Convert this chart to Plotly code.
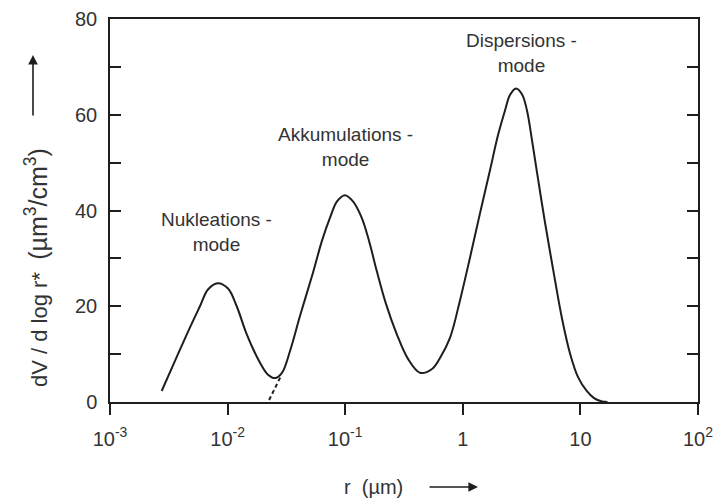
import plotly.graph_objects as go

# ---- data ----
r_um = [0.00275, 0.00357, 0.00479, 0.00582, 0.00681, 0.00824, 0.01008, 0.01195, 0.01453,
        0.01886, 0.02206, 0.0253, 0.0290, 0.0340, 0.0413, 0.0532, 0.0635, 0.0743, 0.0852,
        0.0996, 0.1165, 0.138, 0.1593, 0.1854, 0.2223, 0.2742, 0.342, 0.4325, 0.547,
        0.640, 0.778, 0.946, 1.152, 1.400, 1.703, 1.991, 2.285, 2.518, 2.833, 3.186,
        3.514, 3.875, 4.249, 5.00, 5.89, 6.98, 8.17, 9.55, 11.32, 13.06, 15.27, 17.0]
dv_dlogr = [2.3, 8.6, 15.6, 20.0, 23.5, 24.8, 23.7, 20.0, 14.2,
            8.2, 5.7, 5.0, 6.1, 10.7, 18.0, 27.0, 33.7, 38.5, 41.9,
            43.2, 41.9, 38.5, 33.7, 27.4, 20.5, 14.2, 9.0, 6.1, 6.9,
            9.2, 13.4, 21.2, 30.2, 39.4, 48.4, 55.7, 60.9, 64.1, 65.5, 64.3,
            60.9, 54.7, 48.4, 37.5, 27.4, 17.4, 10.1, 5.2, 2.3, 0.8, 0.1, 0.0]

dash_r = [0.028, 0.0221]
dash_y = [5.1, 0.0]

x_tickvals = [0.001, 0.01, 0.1, 1, 10, 100]
x_ticktext = ["10<sup>-3</sup>", "10<sup>-2</sup>", "10<sup>-1</sup>", "1", "10", "10<sup>2</sup>"]
y_tickvals = [0, 10, 20, 30, 40, 50, 60, 70, 80]
y_ticktext = ["0", "", "20", "", "40", "", "60", "", "80"]

mode_labels = ["Nukleations -<br>mode", "Akkumulations -<br>mode", "Dispersions -<br>mode"]
y_title = ("dV / d log r*  <span style='font-size:25px'>(µm<sup>3</sup>/cm<sup>3</sup>)</span>")
x_title = "r  (µm)"

# ---- layout geometry (page pixels; the page body adds an 8px margin) ----
OFF = 8
W, H = 713, 491
L, R, T, B = 102, 23, 11, 97
PW, PH = W - L - R, H - T - B

def px(x):
    return (x - OFF - L) / PW

def py(y):
    return (H - B - (y - OFF)) / PH

ink = "#1e1e1e"
txt = "#333333"
font = "Liberation Sans, Arial, sans-serif"

fig = go.Figure()
fig.add_trace(go.Scatter(x=r_um, y=dv_dlogr, mode="lines",
                         line=dict(color=ink, width=2, shape="spline", smoothing=1.0),
                         showlegend=False, hoverinfo="skip"))
fig.add_trace(go.Scatter(x=dash_r, y=dash_y, mode="lines",
                         line=dict(color=ink, width=2, dash="4px,3px"),
                         showlegend=False, hoverinfo="skip"))

label_pos = [(216, 232), (345, 147), (521, 53)]
annotations = []
for text, (ax_, ay_) in zip(mode_labels, label_pos):
    annotations.append(dict(text=text, x=px(ax_), y=py(ay_), xref="paper", yref="paper",
                            showarrow=False, font=dict(size=19, color=txt, family=font),
                            align="center", xanchor="center", yanchor="middle"))

# y-axis title (rotated) and its arrow
annotations.append(dict(text=y_title,
                        x=px(36), y=py(268), xref="paper", yref="paper", textangle=-90,
                        showarrow=False, font=dict(size=22, color=txt, family=font),
                        xanchor="center", yanchor="middle"))
annotations.append(dict(text="", x=px(33), y=py(55), xref="paper", yref="paper",
                        showarrow=True, ax=0, ay=62,
                        arrowhead=2, arrowsize=1.2, arrowwidth=1.6, arrowcolor=ink))
# x-axis title and its arrow
annotations.append(dict(text=x_title, x=px(373), y=py(487), xref="paper", yref="paper",
                        showarrow=False, font=dict(size=20, color=txt, family=font),
                        xanchor="center", yanchor="middle"))
annotations.append(dict(text="", x=px(478), y=py(487), xref="paper", yref="paper",
                        showarrow=True, ax=-50, ay=0,
                        arrowhead=2, arrowsize=1.2, arrowwidth=1.6, arrowcolor=ink))

fig.update_layout(
    width=W, height=H,
    margin=dict(l=L, r=R, t=T, b=B, autoexpand=False),
    paper_bgcolor="white", plot_bgcolor="white",
    annotations=annotations,
    font=dict(family=font, size=20, color=txt),
)
fig.update_xaxes(type="log", range=[-3, 2], tickvals=x_tickvals, ticktext=x_ticktext,
                 ticks="outside", ticklen=11, tickwidth=1.5, tickcolor=ink,
                 showline=True, linecolor=ink, linewidth=1.5, mirror=True, automargin=False,
                 showgrid=False, zeroline=False, ticklabelstandoff=7,
                 tickfont=dict(size=20, color=txt, family=font))
fig.update_yaxes(range=[0, 80], tickvals=y_tickvals, ticktext=y_ticktext,
                 ticks="inside", ticklen=11, tickwidth=1.5, tickcolor=ink,
                 showline=True, linecolor=ink, linewidth=1.5, mirror="allticks", automargin=False,
                 showgrid=False, zeroline=False, ticklabelstandoff=7,
                 tickfont=dict(size=20, color=txt, family=font))

fig.write_html("out.html")
